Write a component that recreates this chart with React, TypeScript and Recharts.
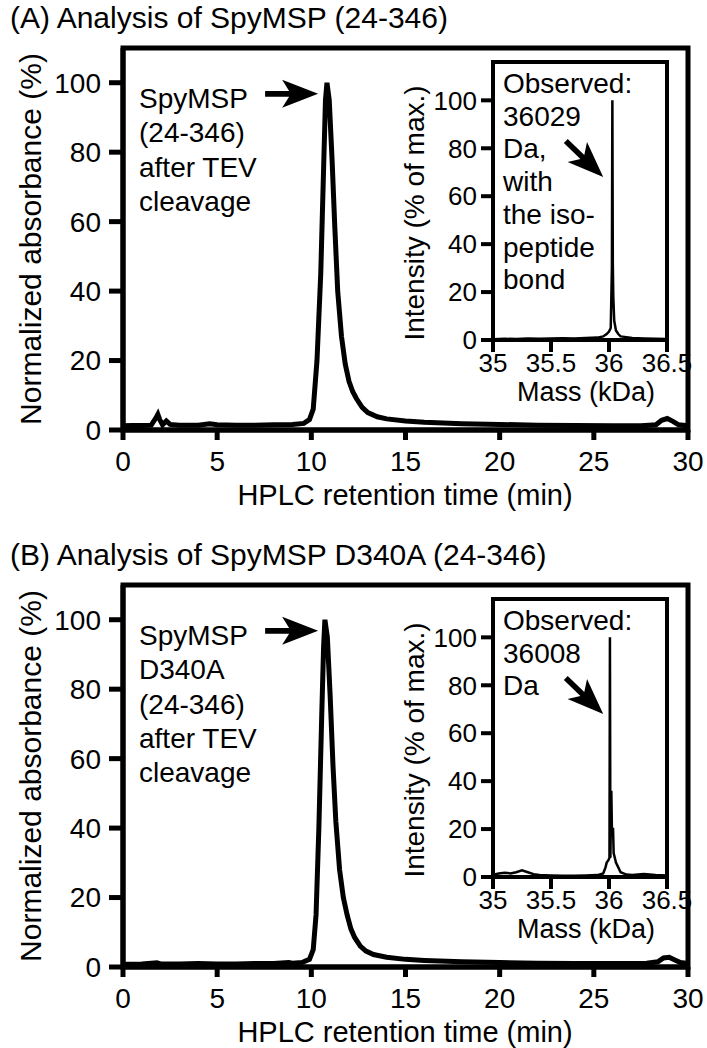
import React from 'react'
import { LineChart, Line, XAxis, YAxis, ReferenceArea, ReferenceDot } from 'recharts'

const FONT = '"Liberation Sans", Arial, Helvetica, sans-serif'

// HPLC traces: retention time (min) and normalized absorbance (%)
const timeA = [0, 0.5, 1, 1.5, 1.75, 1.85, 1.95, 2.1, 2.3, 2.5, 3, 4, 4.6, 5, 6, 7, 8, 9, 9.6, 9.9, 10.1, 10.3, 10.5, 10.65, 10.75, 10.83, 10.95, 11.1, 11.25, 11.4, 11.6, 11.8, 12, 12.2, 12.4, 12.7, 13, 13.5, 14, 15, 16, 18, 20, 22, 24, 26, 27.5, 28.3, 28.6, 28.9, 29.2, 29.5, 30]
const absA = [1.2, 1.3, 1.3, 1.4, 3.5, 4.5, 3, 1.5, 2.6, 1.6, 1.4, 1.4, 1.8, 1.5, 1.4, 1.4, 1.5, 1.6, 1.9, 3, 6, 20, 45, 75, 95, 100, 95, 78, 58, 40, 27, 19, 14, 11, 9, 6.5, 5, 3.8, 3.2, 2.6, 2.2, 1.8, 1.6, 1.4, 1.3, 1.2, 1.2, 1.5, 2.8, 3.3, 2.5, 1.5, 1.2]

const timeB = [0, 1, 1.8, 2, 3, 4, 5, 6, 7, 8, 8.8, 9, 9.5, 9.9, 10.1, 10.25, 10.4, 10.55, 10.65, 10.72, 10.85, 11, 11.15, 11.3, 11.5, 11.7, 11.9, 12.1, 12.3, 12.6, 12.9, 13.3, 14, 15, 16, 18, 20, 22, 24, 26, 27.8, 28.4, 28.7, 29, 29.3, 29.6, 30]
const absB = [0.8, 0.9, 1.2, 0.9, 0.9, 1, 0.9, 0.9, 1, 1, 1.3, 1.1, 1.3, 2.2, 5, 15, 40, 72, 92, 100, 95, 78, 58, 42, 28, 20, 15, 11, 8.5, 6, 4.6, 3.6, 2.8, 2.2, 1.9, 1.5, 1.3, 1.1, 1, 1, 1.1, 1.5, 2.6, 2.8, 2, 1.3, 1]

// deconvoluted mass spectra: mass (kDa) and intensity (% of max.)
const massA = [35, 35.1, 35.2, 35.3, 35.4, 35.5, 35.6, 35.7, 35.8, 35.9, 35.95, 35.98, 36, 36.015, 36.025, 36.029, 36.033, 36.037, 36.045, 36.06, 36.08, 36.1, 36.15, 36.2, 36.3, 36.4, 36.5]
const intensityA = [0.3, 0.5, 0.4, 0.6, 0.5, 0.6, 0.7, 0.6, 0.8, 1, 1.5, 2.5, 3.5, 5, 30, 100, 32, 18, 8, 4, 2.5, 1.5, 1.2, 0.8, 0.6, 0.5, 0.4]

const massB = [35, 35.05, 35.1, 35.15, 35.2, 35.25, 35.3, 35.35, 35.4, 35.5, 35.6, 35.7, 35.8, 35.9, 35.95, 35.97, 35.98, 35.995, 36.004, 36.008, 36.012, 36.02, 36.025, 36.035, 36.04, 36.05, 36.06, 36.08, 36.1, 36.15, 36.2, 36.3, 36.35, 36.4, 36.5]
const intensityB = [1, 1.5, 1.8, 1.5, 2, 2.8, 2, 1.2, 0.8, 0.6, 0.5, 0.5, 0.6, 0.8, 1.5, 4, 6, 7, 8, 100, 8, 36, 20, 20, 10, 8, 6, 4, 2, 1, 0.8, 1.2, 1, 0.8, 0.6]

const timeTicks = [0, 5, 10, 15, 20, 25, 30]
const absTicks = [0, 20, 40, 60, 80, 100]
const massTicks = [35, 35.5, 36, 36.5]
const intensityTicks = [0, 20, 40, 60, 80, 100]

const tickStyle = { fill: '#000', fontSize: 28, fontFamily: FONT }
const insetTickStyle = { fill: '#000', fontSize: 26, fontFamily: FONT }

const Arrow = ({ cx, cy, angle = 0, length = 53 }: any) => {
  if (cx == null || cy == null) return <g />
  return (
    <path
      d={`M0,0 L-36,-14 L-29,-2.8 L-${length},-2.8 L-${length},2.8 L-29,2.8 L-36,14 Z`}
      transform={`translate(${cx},${cy}) rotate(${angle})`}
      fill="#000"
    />
  )
}

interface PanelProps {
  top: number
  title: string
  time: number[]
  abs: number[]
  mass: number[]
  intensity: number[]
  peakLabel: string[]
  massLabel: string[]
}

function Panel({ top, title, time, abs, mass, intensity, peakLabel, massLabel }: PanelProps) {
  const hplc = time.map((t, i) => ({ t, v: abs[i] }))
  const ms = mass.map((m, i) => ({ m, v: intensity[i] }))

  return (
    <div style={{ position: 'absolute', left: 0, top, width: 707, height: 539 }}>
      <div style={{ position: 'absolute', left: 0, top: 0 }}>
        <LineChart width={707} height={539} data={hplc} margin={{ top: 48, right: 19, bottom: 19, left: 0 }}>
          <XAxis
            dataKey="t"
            type="number"
            domain={[0, 30]}
            ticks={timeTicks}
            interval={0}
            height={90}
            tickSize={10}
            tickMargin={11}
            axisLine={{ stroke: '#000', strokeWidth: 5 }}
            tickLine={{ stroke: '#000', strokeWidth: 5 }}
            tick={tickStyle}
          />
          <YAxis
            type="number"
            domain={[0, 110]}
            ticks={absTicks}
            interval={0}
            width={123}
            tickSize={14}
            tickMargin={8}
            axisLine={{ stroke: '#000', strokeWidth: 5 }}
            tickLine={{ stroke: '#000', strokeWidth: 5 }}
            tick={tickStyle}
          />
          <ReferenceArea x1={0} x2={30} y1={0} y2={110} fill="none" fillOpacity={0} stroke="#000" strokeWidth={5} ifOverflow="visible" />
          <Line dataKey="v" type="linear" stroke="#000" strokeWidth={5} dot={false} isAnimationActive={false} />
          <ReferenceDot x={10.36} y={96.8} r={0} ifOverflow="visible" shape={(p: any) => <Arrow {...p} />} />
        </LineChart>
      </div>

      <div style={{ position: 'absolute', left: 380, top: 40 }}>
        <LineChart width={320} height={380} data={ms} margin={{ top: 22, right: 33, bottom: 50, left: 0 }}>
          <XAxis
            dataKey="m"
            type="number"
            domain={[35, 36.5]}
            ticks={massTicks}
            interval={0}
            height={30}
            tickSize={12}
            tickMargin={2}
            axisLine={{ stroke: '#000', strokeWidth: 4 }}
            tickLine={{ stroke: '#000', strokeWidth: 4 }}
            tick={insetTickStyle}
          />
          <YAxis
            type="number"
            domain={[0, 116]}
            ticks={intensityTicks}
            interval={0}
            width={113}
            tickSize={12}
            tickMargin={4}
            axisLine={{ stroke: '#000', strokeWidth: 4 }}
            tickLine={{ stroke: '#000', strokeWidth: 4 }}
            tick={insetTickStyle}
          />
          <ReferenceArea x1={35} x2={36.5} y1={0} y2={116} fill="none" fillOpacity={0} stroke="#000" strokeWidth={4} ifOverflow="visible" />
          <Line dataKey="v" type="linear" stroke="#000" strokeWidth={2.5} dot={false} isAnimationActive={false} />
          <ReferenceDot x={35.95} y={68} r={0} ifOverflow="visible" shape={(p: any) => <Arrow {...p} angle={44} length={52} />} />
        </LineChart>
      </div>

      <svg width={707} height={539} style={{ position: 'absolute', left: 0, top: 0, pointerEvents: 'none' }} fontFamily={FONT} fill="#000">
        <text x={10} y={28} fontSize={30}>{title}</text>
        <text transform="translate(30,239) rotate(-90)" textAnchor="middle" dominantBaseline="central" fontSize={30}>
          Normalized absorbance (%)
        </text>
        <text x={405} y={505} textAnchor="middle" fontSize={29}>HPLC retention time (min)</text>
        {peakLabel.map((s, i) => (
          <text key={s} x={139} y={108 + 34.3 * i} fontSize={28}>{s}</text>
        ))}
        <text transform="translate(414,213) rotate(-90)" textAnchor="middle" dominantBaseline="central" fontSize={28}>
          Intensity (% of max.)
        </text>
        <text x={586} y={401} textAnchor="middle" fontSize={27}>Mass (kDa)</text>
        {massLabel.map((s, i) => (
          <text key={s} x={503} y={93 + 32.7 * i} fontSize={28}>{s}</text>
        ))}
      </svg>
    </div>
  )
}

export default function App() {
  return (
    <div style={{ position: 'absolute', left: 0, top: 0, width: 707, height: 1048, background: '#fff' }}>
      <Panel
        top={0}
        title="(A) Analysis of SpyMSP (24-346)"
        time={timeA}
        abs={absA}
        mass={massA}
        intensity={intensityA}
        peakLabel={['SpyMSP', '(24-346)', 'after TEV', 'cleavage']}
        massLabel={['Observed:', '36029', 'Da,', 'with', 'the iso-', 'peptide', 'bond']}
      />
      <Panel
        top={537}
        title="(B) Analysis of SpyMSP D340A (24-346)"
        time={timeB}
        abs={absB}
        mass={massB}
        intensity={intensityB}
        peakLabel={['SpyMSP', 'D340A', '(24-346)', 'after TEV', 'cleavage']}
        massLabel={['Observed:', '36008', 'Da']}
      />
    </div>
  )
}
